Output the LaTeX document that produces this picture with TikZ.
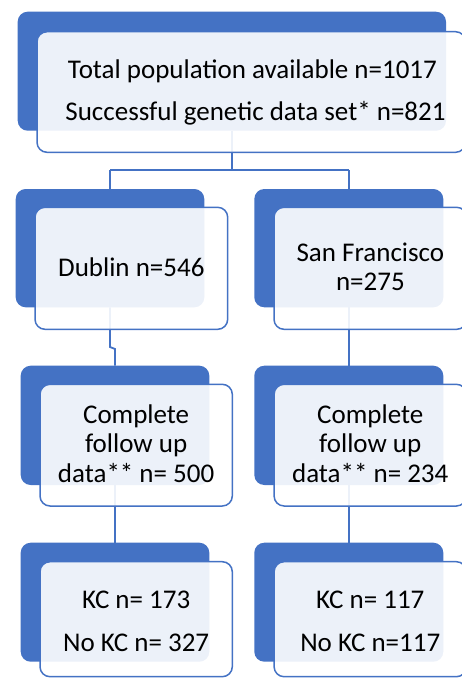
\documentclass[tikz,border=0pt]{standalone}
\usepackage{fontspec}
\setmainfont{Carlito}
\definecolor{ofblue}{HTML}{4472C4}
\begin{document}
\begin{tikzpicture}[x=1pt,y=-1pt,
  bluebox/.style={fill=ofblue, rounded corners=10pt, inner sep=0pt, outer sep=0pt, draw=none},
  frontbox/.style={draw=ofblue, line width=1.5pt, fill=white, fill opacity=0.9, draw opacity=1, rounded corners=10pt, inner sep=0pt, outer sep=0pt},
  conn/.style={draw=ofblue, line width=1.8pt},
  txt/.style={font=\fontsize{27}{29}\selectfont, anchor=base, inner sep=0pt, text=black}]
\useasboundingbox (0,0) rectangle (462,678);
% back boxes
\node[bluebox, minimum width=428.3pt, minimum height=119pt] (b0) at (231.85,71.2) {};
\node[bluebox, minimum width=188.6pt, minimum height=118.3pt] (b1) at (110,248.15) {};
\node[bluebox, minimum width=189pt, minimum height=118.3pt] (b2) at (348.8,248.15) {};
\node[bluebox, minimum width=188.6pt, minimum height=119.3pt] (b3) at (115,425.35) {};
\node[bluebox, minimum width=189pt, minimum height=119.3pt] (b4) at (348.8,425.35) {};
\node[bluebox, minimum width=188.6pt, minimum height=119pt] (b5) at (115,602.2) {};
\node[bluebox, minimum width=189pt, minimum height=119pt] (b6) at (348.8,602.2) {};
% connectors
\coordinate (j0) at (231.85,170);
\coordinate (j1) at (110,170);
\coordinate (j2) at (348.8,170);
\draw[conn] (b0.south) -- (j0);
\draw[conn] (j1) -- (j2);
\draw[conn] (j1) -- (b1.north);
\draw[conn] (j2) -- (b2.north);
\draw[conn] (b1.south) -- (110,347) -- (115,349) -- (b3.north);
\draw[conn] (b2.south) -- (b4.north);
\draw[conn] (b3.south) -- (b5.north);
\draw[conn] (b4.south) -- (b6.north);
% front boxes
\node[frontbox, minimum width=428.6pt, minimum height=120.6pt] (f0) at (251.3,92) {};
\node[frontbox, minimum width=192.7pt, minimum height=122pt] (f1) at (131.35,268.3) {};
\node[frontbox, minimum width=192.7pt, minimum height=122pt] (f2) at (370.35,268.3) {};
\node[frontbox, minimum width=192.3pt, minimum height=121.7pt] (f3) at (136.15,445.15) {};
\node[frontbox, minimum width=192.3pt, minimum height=121.7pt] (f4) at (370.25,445.15) {};
\node[frontbox, minimum width=192.3pt, minimum height=115pt] (f5) at (136.15,619.2) {};
\node[frontbox, minimum width=192.3pt, minimum height=115pt] (f6) at (370.25,619.2) {};
% texts
\node[txt] (t0a) at (252.5,78) {Total population available n=1017};
\node[txt] (t0b) at (255.5,120) {Successful genetic data set* n=821};
\node[txt] (t1) at (131.35,276) {Dublin n=546};
\node[txt] (t2a) at (370.35,261.7) {San Francisco};
\node[txt] (t2b) at (370.35,290.7) {n=275};
\node[txt] (t3a) at (136.15,423.5) {Complete};
\node[txt] (t3b) at (136.15,452) {follow up};
\node[txt] (t3c) at (136.15,482.7) {data** n= 500};
\node[txt] (t4a) at (370.25,423.5) {Complete};
\node[txt] (t4b) at (370.25,452) {follow up};
\node[txt] (t4c) at (370.25,482.7) {data** n= 234};
\node[txt] (t5a) at (136.15,608.3) {KC n= 173};
\node[txt] (t5b) at (136.15,651.7) {No KC n= 327};
\node[txt] (t6a) at (370.25,608.3) {KC n= 117};
\node[txt] (t6b) at (370.25,651.7) {No KC n=117};
\end{tikzpicture}
\end{document}
